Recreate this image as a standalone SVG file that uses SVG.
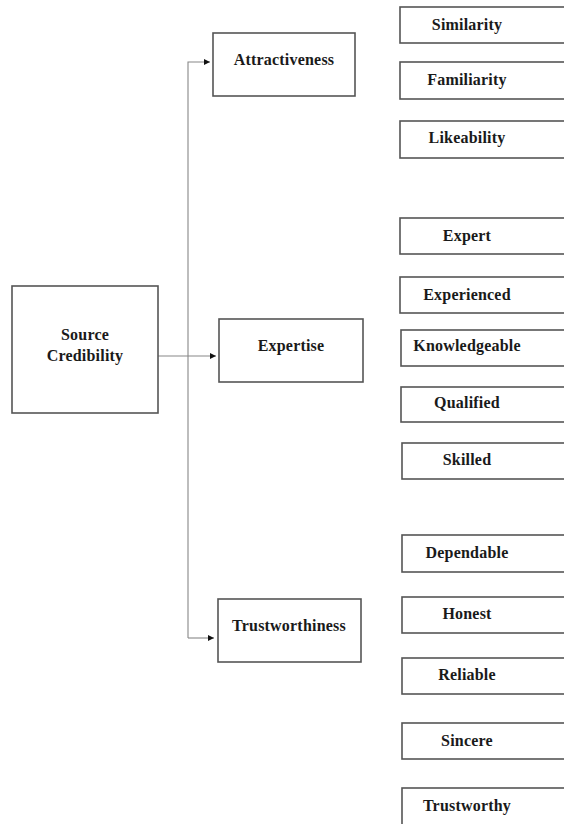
<svg xmlns="http://www.w3.org/2000/svg" width="564" height="824" viewBox="0 0 564 824">
<style>
.box{fill:#fff;stroke:#555;stroke-width:1.6}
.t{font-family:"Liberation Serif","Times New Roman",serif;font-weight:bold;font-size:16px;fill:#1a1a1a;text-anchor:middle;letter-spacing:0.2px}
.c{fill:none;stroke:#888;stroke-width:1.1}
</style>
<defs>
<marker id="ah" viewBox="0 0 10 10" refX="10" refY="5" markerWidth="6" markerHeight="6" markerUnits="userSpaceOnUse" orient="auto">
<path d="M0,0 L10,5 L0,10 z" fill="#111"/>
</marker>
</defs>
<rect width="564" height="824" fill="#fff"/>
<g id="connectors">
<path class="c" d="M158,356 H216" marker-end="url(#ah)"/>
<path class="c" d="M188,638 V62 H210" marker-end="url(#ah)"/>
<path class="c" d="M188,638 H214" marker-end="url(#ah)"/>
</g>
<g id="source-credibility">
<rect class="box" x="12" y="286" width="146" height="127"/>
<text class="t" x="85" y="340">Source</text>
<text class="t" x="85" y="361">Credibility</text>
</g>
<g id="attractiveness">
<rect class="box" x="213" y="33" width="142" height="63"/>
<text class="t" x="284" y="65">Attractiveness</text>
</g>
<g id="expertise">
<rect class="box" x="219" y="319" width="144" height="63"/>
<text class="t" x="291" y="351">Expertise</text>
</g>
<g id="trustworthiness">
<rect class="box" x="218" y="599" width="143" height="63"/>
<text class="t" x="289" y="631">Trustworthiness</text>
</g>
<g id="similarity"><rect class="box" x="400" y="7" width="180" height="36"/><text class="t" x="467" y="30">Similarity</text></g>
<g id="familiarity"><rect class="box" x="400" y="62" width="180" height="37"/><text class="t" x="467" y="85">Familiarity</text></g>
<g id="likeability"><rect class="box" x="400" y="121" width="180" height="37"/><text class="t" x="467" y="143">Likeability</text></g>
<g id="expert"><rect class="box" x="400" y="218" width="180" height="36"/><text class="t" x="467" y="241">Expert</text></g>
<g id="experienced"><rect class="box" x="400" y="277" width="180" height="36"/><text class="t" x="467" y="300">Experienced</text></g>
<g id="knowledgeable"><rect class="box" x="401" y="330" width="180" height="36"/><text class="t" x="467" y="351">Knowledgeable</text></g>
<g id="qualified"><rect class="box" x="401" y="387" width="180" height="35"/><text class="t" x="467" y="408">Qualified</text></g>
<g id="skilled"><rect class="box" x="402" y="443" width="180" height="36"/><text class="t" x="467" y="465">Skilled</text></g>
<g id="dependable"><rect class="box" x="402" y="535" width="180" height="37"/><text class="t" x="467" y="558">Dependable</text></g>
<g id="honest"><rect class="box" x="402" y="597" width="180" height="36"/><text class="t" x="467" y="619">Honest</text></g>
<g id="reliable"><rect class="box" x="402" y="658" width="180" height="36"/><text class="t" x="467" y="680">Reliable</text></g>
<g id="sincere"><rect class="box" x="402" y="723" width="180" height="36"/><text class="t" x="467" y="746">Sincere</text></g>
<g id="trustworthy"><rect class="box" x="402" y="788" width="180" height="40"/><text class="t" x="467" y="811">Trustworthy</text></g>
</svg>
